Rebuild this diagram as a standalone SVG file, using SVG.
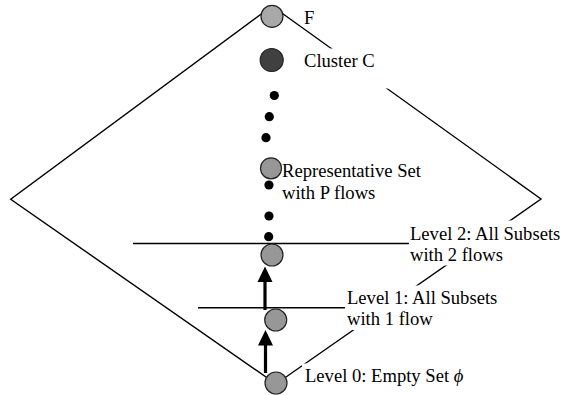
<svg xmlns="http://www.w3.org/2000/svg" width="564" height="395" viewBox="0 0 564 395">
<style>
  .edge { fill: none; stroke: #000; stroke-width: 1.4; }
  .box { fill: #fff; stroke: none; }
  .node { fill: #979797; stroke: #222; stroke-width: 1.2; }
  .dot { fill: #000; }
  .arrow { stroke: #000; stroke-width: 3.2; fill: none; }
  .head { fill: #000; }
  text { font-family: "Liberation Serif", "Times New Roman", serif; font-size: 18.6px; fill: #000; }
</style>
<rect width="564" height="395" fill="#fff"/>
<g id="connectors">
  <polygon class="edge" points="272,6 541,199 276,384 10.7,199.3"/>
  <line class="edge" x1="133" y1="243.5" x2="420" y2="243.5"/>
  <line class="edge" x1="198" y1="307.8" x2="360" y2="307.8"/>
</g>
<g id="label-boxes">
  <rect class="box" x="298" y="48.5" width="92" height="40"/>
  <rect class="box" x="409" y="220.5" width="155" height="45"/>
  <rect class="box" x="345" y="285.5" width="160" height="44.5"/>
  <rect class="box" x="302" y="363.5" width="200" height="31"/>
</g>
<g id="arrows">
  <line class="arrow" x1="265" y1="280" x2="265" y2="310"/>
  <polygon class="head" points="265,266.5 257.5,282 272.5,282"/>
  <line class="arrow" x1="265.5" y1="343" x2="265.5" y2="373"/>
  <polygon class="head" points="265.5,330 258,345.5 273,345.5"/>
</g>
<g id="node-F">
  <circle class="node" cx="272" cy="16.3" r="11" style="fill:#a8a8a8"/>
  <text x="304" y="23.5">F</text>
</g>
<g id="node-cluster-C">
  <circle class="node" cx="271.7" cy="60" r="11.5" style="fill:#404040"/>
  <text x="304" y="67">Cluster C</text>
</g>
<g id="dots-upper">
  <circle class="dot" cx="274.3" cy="95.5" r="4.6"/>
  <circle class="dot" cx="269.3" cy="116.7" r="4.6"/>
  <circle class="dot" cx="266" cy="137.7" r="4.6"/>
</g>
<g id="node-representative">
  <circle class="node" cx="271" cy="168.3" r="10.5"/>
  <text x="282" y="176.5">Representative Set</text>
  <text x="282" y="198.5">with P flows</text>
</g>
<g id="dots-lower">
  <circle class="dot" cx="269" cy="185" r="4.6"/>
  <circle class="dot" cx="269" cy="216" r="4.6"/>
  <circle class="dot" cx="268.7" cy="236.7" r="4.6"/>
</g>
<g id="node-level2">
  <circle class="node" cx="272" cy="255" r="11"/>
  <text x="410" y="240">Level 2: All Subsets</text>
  <text x="410" y="261">with 2 flows</text>
</g>
<g id="node-level1">
  <circle class="node" cx="275.7" cy="320" r="11"/>
  <text x="347" y="303.5">Level 1: All Subsets</text>
  <text x="347" y="324.5">with 1 flow</text>
</g>
<g id="node-level0">
  <circle class="node" cx="276" cy="383" r="11"/>
  <text x="305" y="382">Level 0: Empty Set <tspan font-style="italic">ϕ</tspan></text>
</g>
</svg>
